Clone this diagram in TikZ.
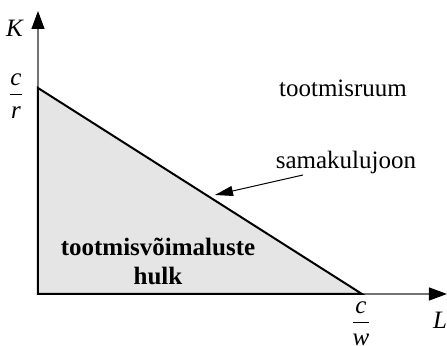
\documentclass[tikz,border=0pt]{standalone}
\usepackage{fontspec}
\setmainfont{Liberation Serif}
\usetikzlibrary{arrows.meta}
\newcommand{\frakt}[2]{$\frac{\textit{#1}\rule[-4pt]{0pt}{0pt}}{\rule{0pt}{11pt}\textit{#2}}$}
\begin{document}
\begin{tikzpicture}[x=0.5pt, y=0.5pt, font=\fontsize{12.5}{15}\selectfont,
    axis/.style={draw=black!55, line width=0.6pt, -{Triangle[length=9pt, width=6.5pt, color=black]}},
    pointer/.style={draw=black, line width=0.5pt, -{Triangle[length=9pt, width=5pt]}}]
    \useasboundingbox (0,0) rectangle (447,346);
    \coordinate (origin) at (38,52);
    \coordinate (ytop) at (38,335);
    \coordinate (xtip) at (447,52);
    \coordinate (cr) at (38,258);
    \coordinate (cw) at (362,52);
    % hulk
    \fill[gray!20] (origin) -- (cr) -- (cw) -- cycle;
    \draw[axis] (origin) -- (ytop);
    \draw[axis] (origin) -- (xtip);
    \draw[black, line width=1pt] (origin) -- (cr) -- (cw) -- cycle;
    % sildid
    \node (labK) at (15,318) {\textit{K}};
    \node (labL) at (440,26) {\textit{L}};
    \node (labcr) at (16,250) {\frakt{c}{r}};
    \node (labcw) at (361,22) {\frakt{c}{w}};
    \node (ruum) at (343,258) {tootmisruum};
    \node (joon) at (346,183) {samakulujoon};
    \node[font=\fontsize{12.5}{14.5}\selectfont\bfseries, align=center] (hulk) at (158,85)
        {tootmisvõimaluste\\hulk};
    \coordinate (tail) at (303,171);
    \coordinate (tip) at (215,151);
    \draw[pointer] (tail) -- (tip);
\end{tikzpicture}
\end{document}
